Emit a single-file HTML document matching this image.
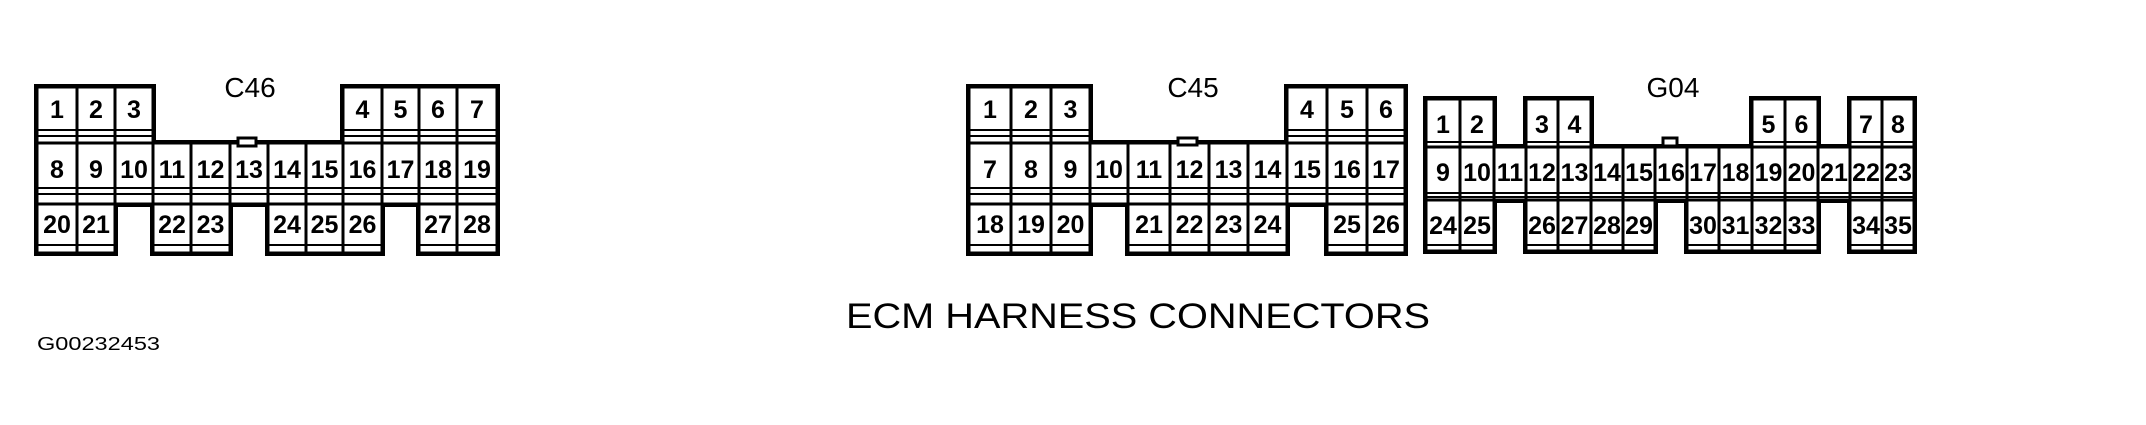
<!DOCTYPE html>
<html><head><meta charset="utf-8"><style>
html,body{margin:0;padding:0;background:#fff;}
svg{display:block;}
.n{font-family:"Liberation Sans",sans-serif;font-weight:bold;font-size:25px;text-anchor:middle;fill:#000;}
.l{font-family:"Liberation Sans",sans-serif;font-size:28px;text-anchor:middle;fill:#000;}
</style></head><body>
<svg width="2146" height="425" viewBox="0 0 2146 425" xmlns="http://www.w3.org/2000/svg">
<rect width="2146" height="425" fill="#fff"/>
<!-- ===== C46 ===== -->
<g fill="#000">
<rect x="34" y="84" width="122" height="62"/><rect x="340" y="84" width="160" height="62"/>
<rect x="34" y="140" width="466" height="67"/>
<rect x="34" y="201" width="84" height="55"/><rect x="150" y="201" width="83" height="55"/><rect x="265" y="201" width="120" height="55"/><rect x="416" y="201" width="84" height="55"/>
</g>
<g fill="#fff">
<rect x="38.5" y="88.5" width="37" height="53"/><rect x="78.5" y="88.5" width="35" height="53"/><rect x="116.5" y="88.5" width="35" height="53"/>
<rect x="344.5" y="88.5" width="36" height="53"/><rect x="383.5" y="88.5" width="34" height="53"/><rect x="420.5" y="88.5" width="35" height="53"/><rect x="458.5" y="88.5" width="37" height="53"/>
<rect x="38.5" y="144.5" width="37" height="58"/><rect x="78.5" y="144.5" width="35" height="58"/><rect x="116.5" y="144.5" width="35" height="58"/><rect x="154.5" y="144.5" width="35" height="58"/><rect x="192.5" y="144.5" width="36" height="58"/><rect x="231.5" y="144.5" width="35" height="58"/><rect x="269.5" y="144.5" width="35" height="58"/><rect x="307.5" y="144.5" width="34" height="58"/><rect x="344.5" y="144.5" width="36" height="58"/><rect x="383.5" y="144.5" width="34" height="58"/><rect x="420.5" y="144.5" width="35" height="58"/><rect x="458.5" y="144.5" width="37" height="58"/>
<rect x="38.5" y="205.5" width="37" height="46"/><rect x="78.5" y="205.5" width="35" height="46"/>
<rect x="154.5" y="205.5" width="35" height="46"/><rect x="192.5" y="205.5" width="36" height="46"/>
<rect x="269.5" y="205.5" width="35" height="46"/><rect x="307.5" y="205.5" width="34" height="46"/><rect x="344.5" y="205.5" width="36" height="46"/>
<rect x="420.5" y="205.5" width="35" height="46"/><rect x="458.5" y="205.5" width="37" height="46"/>
</g>
<g fill="#000">
<rect x="34" y="129" width="122" height="2"/><rect x="34" y="135" width="122" height="2"/>
<rect x="340" y="129" width="160" height="2"/><rect x="340" y="135" width="160" height="2"/>
<rect x="34" y="187" width="466" height="2"/><rect x="34" y="193" width="466" height="2"/>
<rect x="34" y="244" width="84" height="2"/><rect x="150" y="244" width="83" height="2"/><rect x="265" y="244" width="120" height="2"/><rect x="416" y="244" width="84" height="2"/>
</g>
<rect x="238" y="138" width="18" height="8" fill="#fff" stroke="#000" stroke-width="3"/>
<text class="l" x="250" y="97">C46</text>
<g class="n">
<text x="57" y="118">1</text><text x="96" y="118">2</text><text x="134" y="118">3</text>
<text x="362.5" y="118">4</text><text x="400.5" y="118">5</text><text x="438" y="118">6</text><text x="477" y="118">7</text>
<text x="57" y="178">8</text><text x="96" y="178">9</text><text x="134" y="178">10</text><text x="172" y="178">11</text><text x="210.5" y="178">12</text><text x="249" y="178">13</text><text x="287" y="178">14</text><text x="324.5" y="178">15</text><text x="362.5" y="178">16</text><text x="400.5" y="178">17</text><text x="438" y="178">18</text><text x="477" y="178">19</text>
<text x="57" y="233">20</text><text x="96" y="233">21</text><text x="172" y="233">22</text><text x="210.5" y="233">23</text><text x="287" y="233">24</text><text x="324.5" y="233">25</text><text x="362.5" y="233">26</text><text x="438" y="233">27</text><text x="477" y="233">28</text>
</g>
<!-- ===== C45 ===== -->
<g fill="#000">
<rect x="966" y="84" width="127" height="62"/><rect x="1284" y="84" width="124" height="62"/>
<rect x="966" y="140" width="442" height="67"/>
<rect x="966" y="201" width="127" height="55"/><rect x="1125" y="201" width="165" height="55"/><rect x="1324" y="201" width="84" height="55"/>
</g>
<g fill="#fff">
<rect x="970.5" y="88.5" width="39" height="53"/><rect x="1012.5" y="88.5" width="37" height="53"/><rect x="1052.5" y="88.5" width="36" height="53"/>
<rect x="1288.5" y="88.5" width="37" height="53"/><rect x="1328.5" y="88.5" width="37" height="53"/><rect x="1368.5" y="88.5" width="35" height="53"/>
<rect x="970.5" y="144.5" width="39" height="58"/><rect x="1012.5" y="144.5" width="37" height="58"/><rect x="1052.5" y="144.5" width="36" height="58"/><rect x="1091.5" y="144.5" width="35" height="58"/><rect x="1129.5" y="144.5" width="39" height="58"/><rect x="1171.5" y="144.5" width="36" height="58"/><rect x="1210.5" y="144.5" width="36" height="58"/><rect x="1249.5" y="144.5" width="36" height="58"/><rect x="1288.5" y="144.5" width="37" height="58"/><rect x="1328.5" y="144.5" width="37" height="58"/><rect x="1368.5" y="144.5" width="35" height="58"/>
<rect x="970.5" y="205.5" width="39" height="46"/><rect x="1012.5" y="205.5" width="37" height="46"/><rect x="1052.5" y="205.5" width="36" height="46"/>
<rect x="1129.5" y="205.5" width="39" height="46"/><rect x="1171.5" y="205.5" width="36" height="46"/><rect x="1210.5" y="205.5" width="36" height="46"/><rect x="1249.5" y="205.5" width="36" height="46"/>
<rect x="1328.5" y="205.5" width="37" height="46"/><rect x="1368.5" y="205.5" width="35" height="46"/>
</g>
<g fill="#000">
<rect x="966" y="129" width="127" height="2"/><rect x="966" y="135" width="127" height="2"/>
<rect x="1284" y="129" width="124" height="2"/><rect x="1284" y="135" width="124" height="2"/>
<rect x="966" y="187" width="442" height="2"/><rect x="966" y="193" width="442" height="2"/>
<rect x="966" y="244" width="127" height="2"/><rect x="1125" y="244" width="165" height="2"/><rect x="1324" y="244" width="84" height="2"/>
</g>
<rect x="1178" y="138" width="19" height="7" fill="#fff" stroke="#000" stroke-width="3"/>
<text class="l" x="1193" y="97">C45</text>
<g class="n">
<text x="990" y="118">1</text><text x="1031" y="118">2</text><text x="1070.5" y="118">3</text>
<text x="1307" y="118">4</text><text x="1347" y="118">5</text><text x="1386" y="118">6</text>
<text x="990" y="178">7</text><text x="1031" y="178">8</text><text x="1070.5" y="178">9</text><text x="1109" y="178">10</text><text x="1149" y="178">11</text><text x="1189.5" y="178">12</text><text x="1228.5" y="178">13</text><text x="1267.5" y="178">14</text><text x="1307" y="178">15</text><text x="1347" y="178">16</text><text x="1386" y="178">17</text>
<text x="990" y="233">18</text><text x="1031" y="233">19</text><text x="1070.5" y="233">20</text><text x="1149" y="233">21</text><text x="1189.5" y="233">22</text><text x="1228.5" y="233">23</text><text x="1267.5" y="233">24</text><text x="1347" y="233">25</text><text x="1386" y="233">26</text>
</g>
<!-- ===== G04 ===== -->
<g fill="#000">
<rect x="1423" y="96" width="74" height="54"/><rect x="1523" y="96" width="71" height="54"/><rect x="1749" y="96" width="72" height="54"/><rect x="1847" y="96" width="70" height="54"/>
<rect x="1423" y="144" width="494" height="59"/>
<rect x="1423" y="197" width="74" height="57"/><rect x="1523" y="197" width="135" height="57"/><rect x="1684" y="197" width="137" height="57"/><rect x="1847" y="197" width="70" height="57"/>
</g>
<g fill="#fff">
<rect x="1427.5" y="100.5" width="31" height="45"/><rect x="1461.5" y="100.5" width="31" height="45"/>
<rect x="1527.5" y="100.5" width="29" height="45"/><rect x="1559.5" y="100.5" width="30" height="45"/>
<rect x="1753.5" y="100.5" width="30" height="45"/><rect x="1786.5" y="100.5" width="30" height="45"/>
<rect x="1851.5" y="100.5" width="29" height="45"/><rect x="1883.5" y="100.5" width="29" height="45"/>
<rect x="1427.5" y="148.5" width="31" height="50"/><rect x="1461.5" y="148.5" width="31" height="50"/><rect x="1495.5" y="148.5" width="29" height="50"/><rect x="1527.5" y="148.5" width="29" height="50"/><rect x="1559.5" y="148.5" width="30" height="50"/><rect x="1592.5" y="148.5" width="29" height="50"/><rect x="1624.5" y="148.5" width="29" height="50"/><rect x="1656.5" y="148.5" width="29" height="50"/><rect x="1688.5" y="148.5" width="29" height="50"/><rect x="1720.5" y="148.5" width="30" height="50"/><rect x="1753.5" y="148.5" width="30" height="50"/><rect x="1786.5" y="148.5" width="30" height="50"/><rect x="1819.5" y="148.5" width="29" height="50"/><rect x="1851.5" y="148.5" width="29" height="50"/><rect x="1883.5" y="148.5" width="29" height="50"/>
<rect x="1427.5" y="201.5" width="31" height="48"/><rect x="1461.5" y="201.5" width="31" height="48"/>
<rect x="1527.5" y="201.5" width="29" height="48"/><rect x="1559.5" y="201.5" width="30" height="48"/><rect x="1592.5" y="201.5" width="29" height="48"/><rect x="1624.5" y="201.5" width="29" height="48"/>
<rect x="1688.5" y="201.5" width="29" height="48"/><rect x="1720.5" y="201.5" width="30" height="48"/><rect x="1753.5" y="201.5" width="30" height="48"/><rect x="1786.5" y="201.5" width="30" height="48"/>
<rect x="1851.5" y="201.5" width="29" height="48"/><rect x="1883.5" y="201.5" width="29" height="48"/>
</g>
<g fill="#000">
<rect x="1423" y="141" width="74" height="2"/><rect x="1523" y="141" width="71" height="2"/><rect x="1749" y="141" width="72" height="2"/><rect x="1847" y="141" width="70" height="2"/>
<rect x="1423" y="192" width="494" height="2"/><rect x="1423" y="196" width="494" height="2"/>
<rect x="1423" y="244" width="74" height="2"/><rect x="1523" y="244" width="135" height="2"/><rect x="1684" y="244" width="137" height="2"/><rect x="1847" y="244" width="70" height="2"/>
</g>
<rect x="1663" y="138" width="14" height="8" fill="#fff" stroke="#000" stroke-width="3"/>
<text class="l" x="1673" y="97">G04</text>
<g class="n">
<text x="1443" y="133">1</text><text x="1477" y="133">2</text><text x="1542" y="133">3</text><text x="1574.5" y="133">4</text>
<text x="1768.5" y="133">5</text><text x="1801.5" y="133">6</text><text x="1866" y="133">7</text><text x="1898" y="133">8</text>
<text x="1443" y="181">9</text><text x="1477" y="181">10</text><text x="1510" y="181">11</text><text x="1542" y="181">12</text><text x="1574.5" y="181">13</text><text x="1607" y="181">14</text><text x="1639" y="181">15</text><text x="1671" y="181">16</text><text x="1703" y="181">17</text><text x="1735.5" y="181">18</text><text x="1768.5" y="181">19</text><text x="1801.5" y="181">20</text><text x="1834" y="181">21</text><text x="1866" y="181">22</text><text x="1898" y="181">23</text>
<text x="1443" y="234">24</text><text x="1477" y="234">25</text><text x="1542" y="234">26</text><text x="1574.5" y="234">27</text><text x="1607" y="234">28</text><text x="1639" y="234">29</text><text x="1703" y="234">30</text><text x="1735.5" y="234">31</text><text x="1768.5" y="234">32</text><text x="1801.5" y="234">33</text><text x="1866" y="234">34</text><text x="1898" y="234">35</text>
</g>
<!-- captions -->
<text x="846" y="328" font-family="Liberation Sans, sans-serif" font-size="35" textLength="584" lengthAdjust="spacingAndGlyphs" fill="#000">ECM HARNESS CONNECTORS</text>
<text x="37" y="350" font-family="Liberation Sans, sans-serif" font-size="18" textLength="123" lengthAdjust="spacingAndGlyphs" fill="#000">G00232453</text>
</svg>
</body></html>
